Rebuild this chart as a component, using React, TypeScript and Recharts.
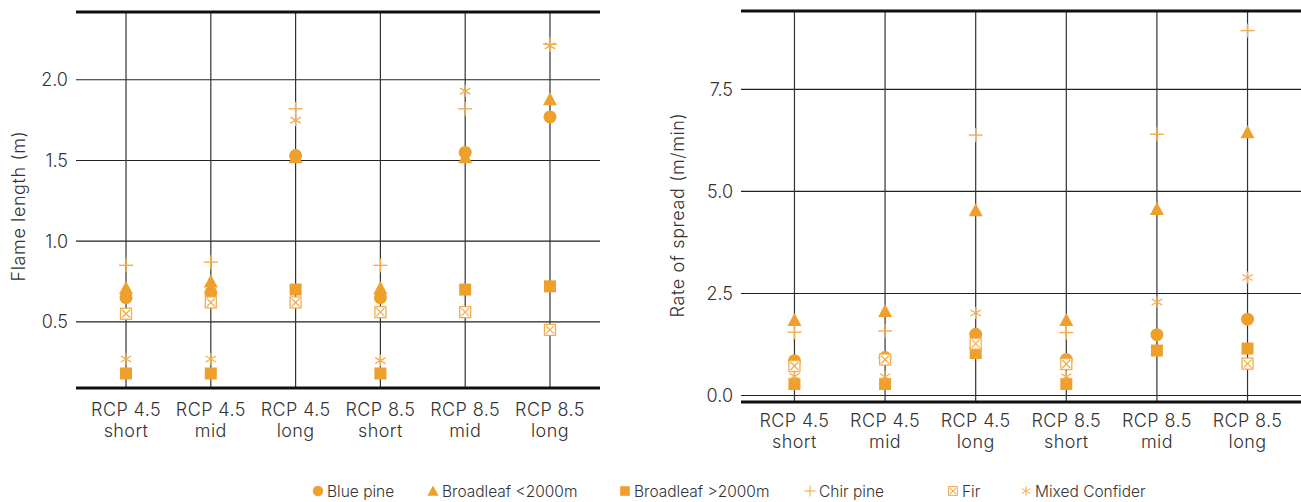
import React from "react";
import {
  ScatterChart,
  Scatter,
  XAxis,
  YAxis,
  CartesianGrid,
  ReferenceLine,
} from "recharts";

// scenarios on the x axis (two-line labels)
const scenarios = [
  ["RCP 4.5", "short"],
  ["RCP 4.5", "mid"],
  ["RCP 4.5", "long"],
  ["RCP 8.5", "short"],
  ["RCP 8.5", "mid"],
  ["RCP 8.5", "long"],
];

// flame length (m)
const flameBluePine = [0.65, 0.68, 1.53, 0.65, 1.55, 1.77];
const flameBroadLow = [0.71, 0.75, 1.52, 0.71, 1.52, 1.88];
const flameBroadHigh = [0.18, 0.18, 0.7, 0.18, 0.7, 0.72];
const flameChir = [0.85, 0.87, 1.82, 0.85, 1.82, 2.22];
const flameFir = [0.55, 0.62, 0.62, 0.56, 0.56, 0.45];
const flameMixed = [0.27, 0.27, 1.75, 0.26, 1.93, 2.21];
const flameTicks = [0.5, 1.0, 1.5, 2.0];

// rate of spread (m/min)
const rosBluePine = [0.85, 0.93, 1.5, 0.88, 1.49, 1.87];
const rosBroadLow = [1.85, 2.07, 4.54, 1.85, 4.57, 6.45];
const rosBroadHigh = [0.28, 0.28, 1.04, 0.28, 1.1, 1.15];
const rosChir = [1.55, 1.58, 6.38, 1.54, 6.4, 8.94];
const rosFir = [0.72, 0.88, 1.27, 0.77, null, 0.78];
const rosMixed = [0.47, 0.46, 2.02, 0.46, 2.29, 2.89];
const rosTicks = [0.0, 2.5, 5.0, 7.5];

const ORANGE = "#EFA02C";
const LIGHT = "#F2AD4E";
const TEXT = "#333";
const FONT = "Inter, 'Noto Sans', sans-serif";
const WEIGHT = 300;

type P = { cx?: number; cy?: number };

const Dot = ({ cx = 0, cy = 0 }: P) => <circle cx={cx} cy={cy} r={6.5} fill={ORANGE} />;
const Tri = ({ cx = 0, cy = 0 }: P) => (
  <polygon points={`${cx},${cy - 7} ${cx - 7},${cy + 6} ${cx + 7},${cy + 6}`} fill={ORANGE} />
);
const Sq = ({ cx = 0, cy = 0 }: P) => (
  <rect x={cx - 6} y={cy - 6} width={12} height={12} fill={ORANGE} />
);
const Plus = ({ cx = 0, cy = 0 }: P) => (
  <g stroke={LIGHT} strokeWidth={1.4}>
    <line x1={cx - 7} y1={cy} x2={cx + 7} y2={cy} />
    <line x1={cx} y1={cy - 7} x2={cx} y2={cy + 7} />
  </g>
);
const Fir = ({ cx = 0, cy = 0 }: P) => (
  <g stroke={LIGHT} strokeWidth={1.3}>
    <rect x={cx - 5.5} y={cy - 5.5} width={11} height={11} fill="#fff" />
    <line x1={cx - 4} y1={cy - 4} x2={cx + 4} y2={cy + 4} />
    <line x1={cx - 4} y1={cy + 4} x2={cx + 4} y2={cy - 4} />
  </g>
);
const Star = ({ cx = 0, cy = 0 }: P) => (
  <g stroke={LIGHT} strokeWidth={1.3}>
    <line x1={cx} y1={cy - 6} x2={cx} y2={cy + 6} />
    <line x1={cx - 5.2} y1={cy - 3} x2={cx + 5.2} y2={cy + 3} />
    <line x1={cx - 5.2} y1={cy + 3} x2={cx + 5.2} y2={cy - 3} />
  </g>
);

const toPoints = (vals: (number | null)[]) =>
  vals.flatMap((v, i) => (v == null ? [] : [{ x: i, y: v }]));

const XTick = ({ x, y, payload, dy1 }: any) => {
  const [a, b] = scenarios[payload.value] || ["", ""];
  return (
    <text
      x={x}
      y={y}
      textAnchor="middle"
      fill={TEXT}
      fontSize={18}
      fontWeight={WEIGHT}
      letterSpacing={0.4}
      fontFamily={FONT}
    >
      <tspan x={x} dy={dy1}>{a}</tspan>
      <tspan x={x} dy={21}>{b}</tspan>
    </text>
  );
};

interface PanelProps {
  width: number;
  margin: { top: number; right: number; bottom: number; left: number };
  yWidth: number;
  domain: [number, number];
  ticks: number[];
  label: string;
  labelX: number;
  labelY: number;
  tickDy: number;
  series: { name: string; values: (number | null)[]; shape: any }[];
}

function Panel({ width, margin, yWidth, domain, ticks, label, labelX, labelY, tickDy, series }: PanelProps) {
  return (
    <ScatterChart width={width} height={470} margin={margin}>
      <CartesianGrid stroke="#222" strokeWidth={1.1} vertical={false} />
      <XAxis
        type="number"
        dataKey="x"
        domain={[-0.59, 5.59]}
        ticks={[0, 1, 2, 3, 4, 5]}
        interval={0}
        allowDataOverflow
        height={60}
        tickLine={false}
        axisLine={{ stroke: "#111", strokeWidth: 3 }}
        tick={<XTick dy1={tickDy} />}
      />
      <YAxis
        type="number"
        dataKey="y"
        domain={domain}
        ticks={ticks}
        allowDataOverflow
        width={yWidth}
        axisLine={false}
        tickLine={false}
        tickMargin={2}
        tickFormatter={(v: number) => v.toFixed(1)}
        tick={{ fill: TEXT, fontSize: 18, fontWeight: WEIGHT, fontFamily: FONT }}
        label={{
          value: label,
          content: () => (
            <text
              x={labelX}
              y={labelY}
              transform={`rotate(-90 ${labelX} ${labelY})`}
              textAnchor="middle"
              dominantBaseline="central"
              fill={TEXT}
              fontSize={18}
              fontWeight={WEIGHT}
              letterSpacing={0.6}
              fontFamily={FONT}
            >
              {label}
            </text>
          ),
        }}
      />
      {scenarios.map((_s, i) => (
        <ReferenceLine key={`v-${i}`} x={i} stroke="#333" strokeWidth={1.2} />
      ))}
      <ReferenceLine y={domain[1]} stroke="#111" strokeWidth={3} />
      {series.map((s) => (
        <Scatter
          key={s.name}
          name={s.name}
          data={toPoints(s.values)}
          shape={s.shape}
          isAnimationActive={false}
        />
      ))}
    </ScatterChart>
  );
}

const legendItems = [
  { name: "Blue pine", Shape: Dot, left: 318 },
  { name: "Broadleaf <2000m", Shape: Tri, left: 433 },
  { name: "Broadleaf >2000m", Shape: Sq, left: 625 },
  { name: "Chir pine", Shape: Plus, left: 810 },
  { name: "Fir", Shape: Fir, left: 953 },
  { name: "Mixed Confider", Shape: Star, left: 1026 },
];

export default function App() {
  const flameSeries = [
    { name: "Broadleaf <2000m", values: flameBroadLow, shape: (p: P) => <Tri {...p} /> },
    { name: "Blue pine", values: flameBluePine, shape: (p: P) => <Dot {...p} /> },
    { name: "Broadleaf >2000m", values: flameBroadHigh, shape: (p: P) => <Sq {...p} /> },
    { name: "Fir", values: flameFir, shape: (p: P) => <Fir {...p} /> },
    { name: "Chir pine", values: flameChir, shape: (p: P) => <Plus {...p} /> },
    { name: "Mixed Confider", values: flameMixed, shape: (p: P) => <Star {...p} /> },
  ];
  const rosSeries = [
    { name: "Broadleaf <2000m", values: rosBroadLow, shape: (p: P) => <Tri {...p} /> },
    { name: "Blue pine", values: rosBluePine, shape: (p: P) => <Dot {...p} /> },
    { name: "Broadleaf >2000m", values: rosBroadHigh, shape: (p: P) => <Sq {...p} /> },
    { name: "Fir", values: rosFir, shape: (p: P) => <Fir {...p} /> },
    { name: "Chir pine", values: rosChir, shape: (p: P) => <Plus {...p} /> },
    { name: "Mixed Confider", values: rosMixed, shape: (p: P) => <Star {...p} /> },
  ];

  return (
    <div style={{ position: "absolute", left: 0, top: 0, width: 1301, height: 502, background: "#fff", fontFamily: FONT }}>
      <div style={{ position: "absolute", left: 0, top: 0 }}>
        <Panel
          width={610}
          margin={{ top: 12, right: 10, bottom: 22, left: 0 }}
          yWidth={76}
          domain={[0.09, 2.42]}
          ticks={flameTicks}
          label="Flame length (m)"
          labelX={18}
          labelY={206}
          tickDy={20}
          series={flameSeries}
        />
      </div>
      <div style={{ position: "absolute", left: 640, top: 0 }}>
        <Panel
          width={661}
          margin={{ top: 11, right: 0, bottom: 8, left: 0 }}
          yWidth={101}
          domain={[-0.16, 9.42]}
          ticks={rosTicks}
          label="Rate of spread (m/min)"
          labelX={37}
          labelY={215}
          tickDy={17}
          series={rosSeries}
        />
      </div>
      <svg width={1301} height={30} style={{ position: "absolute", left: 0, top: 478 }}>
        {legendItems.map(({ name, Shape, left }) => (
          <g key={name}>
            <g transform="scale(0.8)" style={{ transformOrigin: `${left}px 13px` }}>
              <Shape cx={left} cy={13} />
            </g>
            <text
              x={left + 9}
              y={13}
              dominantBaseline="central"
              fontSize={15.5}
              fontWeight={WEIGHT}
              fill={TEXT}
              fontFamily={FONT}
            >
              {name}
            </text>
          </g>
        ))}
      </svg>
    </div>
  );
}
